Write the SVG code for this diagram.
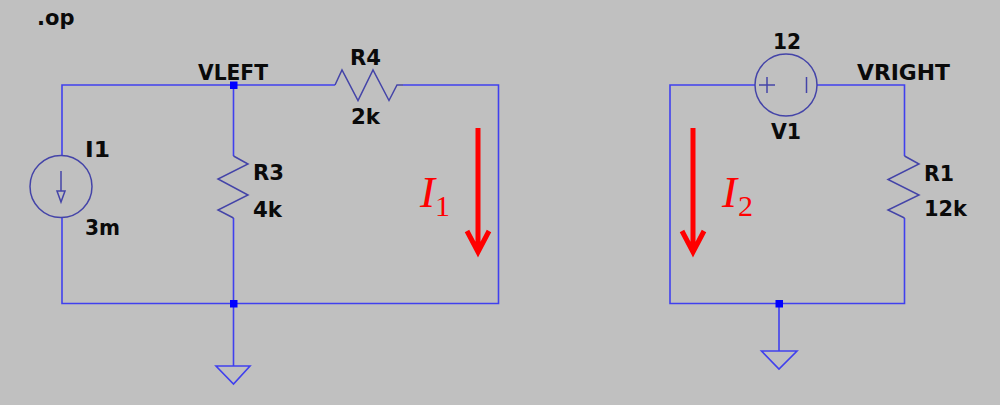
<svg xmlns="http://www.w3.org/2000/svg" width="1000" height="405" viewBox="0 0 1000 405">
<style>
.w{fill:none;stroke:#4040ee;stroke-width:1.6}
.s{fill:none;stroke:#4444a8;stroke-width:1.5}
.n{fill:#0000ff}
.t{font-family:"DejaVu Sans",sans-serif;font-weight:bold;font-size:21px;fill:#0a0a0a}
.a{fill:none;stroke:#ff0000;stroke-width:5}
.m{font-family:"Liberation Serif",serif;fill:#ff0000}
.i{font-style:italic;font-size:45px}
.b{font-size:30px}
</style>
<rect width="1000" height="405" fill="#c0c0c0"/>
<g id="connectors">
<path class="w" d="M62 155V85H335M403 85H498.500V303.500H62V217"/>
<path class="w" d="M233.500 85V156M233.500 218V366"/>
<path class="w" d="M755 85H670V303.500H904.500V218M904.500 156V85H817"/>
<path class="w" d="M779 303.500V351"/>
</g>
<g id="op"><text class="t" x="37" y="25">.op</text></g>
<g id="VLEFT"><rect class="n" x="230" y="81.500" width="7.500" height="7.500"/><text class="t" x="198" y="80" textLength="70" lengthAdjust="spacingAndGlyphs">VLEFT</text></g>
<g id="I1">
<circle class="s" cx="61" cy="186.500" r="31"/>
<path class="s" d="M61 171V191M57 191H65L61 202Z"/>
<text class="t" x="85" y="157" textLength="25" lengthAdjust="spacingAndGlyphs">I1</text>
<text class="t" x="85" y="235" textLength="35" lengthAdjust="spacingAndGlyphs">3m</text>
</g>
<g id="R3">
<path class="s" d="M233.500 156L248 164L218 179L248 195L218 210L233.500 218"/>
<text class="t" x="253" y="180" textLength="31" lengthAdjust="spacingAndGlyphs">R3</text>
<text class="t" x="253" y="217" textLength="29" lengthAdjust="spacingAndGlyphs">4k</text>
</g>
<g id="R4">
<path class="s" d="M335 85L342 70L358 100.500L373 70L389 100.500L397 85H403"/>
<text class="t" x="350" y="65" textLength="31" lengthAdjust="spacingAndGlyphs">R4</text>
<text class="t" x="351" y="124" textLength="29" lengthAdjust="spacingAndGlyphs">2k</text>
</g>
<g id="GND1">
<rect class="n" x="230" y="300" width="7.500" height="7.500"/>
<path class="w" d="M216 366H250L233.500 384Z"/>
</g>
<g id="I1label">
<path class="a" d="M478 128V250M467 231L478 252L489 231"/>
<text class="m i" x="420" y="207">I</text>
<text class="m b" x="435" y="216">1</text>
</g>
<g id="V1">
<circle class="s" cx="786" cy="85" r="31"/>
<path class="s" d="M759 85H775M767 77V93M806.500 77V93"/>
<text class="t" x="773" y="49" textLength="28" lengthAdjust="spacingAndGlyphs">12</text>
<text class="t" x="771" y="139" textLength="30" lengthAdjust="spacingAndGlyphs">V1</text>
</g>
<g id="VRIGHT"><text class="t" x="857" y="80" textLength="93" lengthAdjust="spacingAndGlyphs">VRIGHT</text></g>
<g id="R1">
<path class="s" d="M904.500 156L919 164L888 179.500L919 195L888 210L904.500 218"/>
<text class="t" x="924" y="181" textLength="30" lengthAdjust="spacingAndGlyphs">R1</text>
<text class="t" x="924" y="216" textLength="43" lengthAdjust="spacingAndGlyphs">12k</text>
</g>
<g id="GND2">
<rect class="n" x="775.500" y="300" width="7.500" height="7.500"/>
<path class="w" d="M761.500 351H797L779 369Z"/>
</g>
<g id="I2label">
<path class="a" d="M693 128V250M682 231L693 252L704 231"/>
<text class="m i" x="722" y="207">I</text>
<text class="m b" x="738" y="216">2</text>
</g>
</svg>
